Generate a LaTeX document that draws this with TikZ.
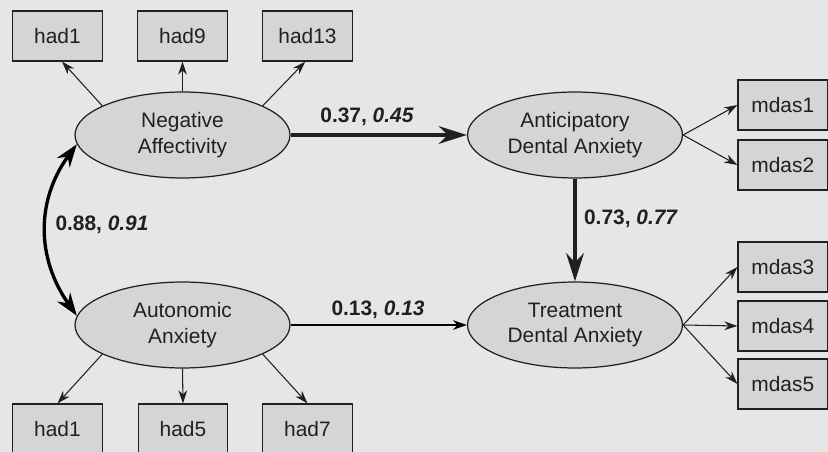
\documentclass[tikz,border=0pt]{standalone}
\usepackage{fontspec}
\setmainfont{Liberation Sans}
\usetikzlibrary{shapes.geometric,arrows.meta}
\definecolor{bggray}{RGB}{230,230,230}
\definecolor{boxgray}{RGB}{212,213,215}
\definecolor{inkdark}{RGB}{35,31,32}

\begin{document}
\begin{tikzpicture}[x=0.02cm,y=-0.02cm,
    font=\fontsize{11.9}{14.7}\selectfont,text=inkdark,
    obs/.style={draw=inkdark,fill=boxgray,line width=0.7pt,minimum width=1.79cm,minimum height=1cm,inner sep=0pt},
    latent/.style={ellipse,draw=inkdark,fill=boxgray,line width=0.7pt,minimum width=4.3cm,minimum height=1.72cm,inner sep=0pt,align=center},
    loading/.style={-{Stealth[length=7.5pt,width=5pt]},line width=0.6pt,draw=inkdark},
    effect/.style={-{Stealth[length=16pt,width=10pt]},line width=2.3pt,draw=inkdark},
    coef/.style={font=\fontsize{11.9}{14}\selectfont\bfseries}]
    % Background
    \useasboundingbox (0,0) rectangle (828,452);
    \fill[bggray] (0,0) rectangle (828,452);
    % Latent variables
    \node[latent] (na) at (182.5,135) {Negative\\Affectivity};
    \node[latent] (aa) at (182.5,325) {Autonomic\\Anxiety};
    \node[latent] (ada) at (575,135) {Anticipatory\\Dental Anxiety};
    \node[latent] (tda) at (575,325) {Treatment\\Dental Anxiety};
    % Indicators
    \foreach \n/\x/\t in {t1/57.5/had1, t9/182.5/had9, t13/307.5/had13}
      \node[obs] (\n) at (\x,36) {\t};
    \foreach \n/\x/\t in {b1/57.5/had1, b5/183/had5, b7/307.5/had7}
      \node[obs] (\n) at (\x,429) {\t};
    \foreach \n/\y in {1/105, 2/165, 3/267, 4/326, 5/384}
      \node[obs] (m\n) at (782.75,\y) {mdas\n};
    % Loadings
    \foreach \a/\b in {na.160/t1.-80, na.north/t9.south, na.20/t13.-95,
                       aa.200/b1.north, aa.south/b5.north, aa.-20/b7.north,
                       ada.east/m1.west, ada.east/m2.west,
                       tda.east/m3.west, tda.east/m4.west, tda.east/m5.west}
      \draw[loading] (\a) -- (\b);
    % Structural paths
    \draw[effect] (na.east) -- (ada.west);
    \draw[effect] (ada.south) -- (tda.north);
    \draw[-{Stealth[length=8pt,width=5.5pt]},line width=0.6pt] (aa.east) -- (tda.west);
    \draw[{Stealth[length=13pt,width=9pt]}-{Stealth[length=13pt,width=9pt]},line width=1.9pt]
      (na.185) .. controls (36,200) and (36,258) .. (aa.175);
    % Coefficients
    \node[coef] (c1) at (367,117) {0.37, \textit{0.45}};
    \node[coef] (c2) at (631,219) {0.73, \textit{0.77}};
    \node[coef] (c3) at (378,310) {0.13, \textit{0.13}};
    \node[coef] (c4) at (102,225) {0.88, \textit{0.91}};
  \end{tikzpicture}
\end{document}
